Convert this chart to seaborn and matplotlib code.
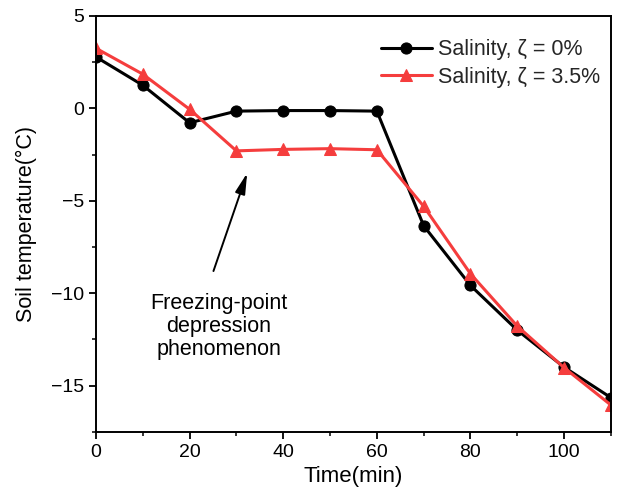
import matplotlib
matplotlib.use("Agg")
import matplotlib.pyplot as plt
import seaborn as sns
import pandas as pd
from matplotlib.ticker import MultipleLocator

time_min = [0, 10, 20, 30, 40, 50, 60, 70, 80, 90, 100, 110]
temp_0 = [2.78, 1.25, -0.78, -0.15, -0.12, -0.12, -0.15, -6.35, -9.58, -12.0, -14.0, -15.65]
temp_35 = [3.25, 1.85, -0.05, -2.3, -2.22, -2.18, -2.24, -5.3, -8.95, -11.78, -14.03, -16.05]
labels = ["Salinity, ζ = 0%", "Salinity, ζ = 3.5%"]

sns.set_theme(style="ticks")
plt.rcParams['font.family'] = ['Liberation Sans', 'DejaVu Sans']

fig = plt.figure(figsize=(6.19, 4.97), dpi=100)
ax = fig.add_axes([0.155, 0.131, 0.832, 0.837])

df0 = pd.DataFrame({"t": time_min, "T": temp_0})
df1 = pd.DataFrame({"t": time_min, "T": temp_35})
sns.lineplot(data=df0, x="t", y="T", ax=ax, color="black", marker="o", markersize=8,
             linewidth=2.2, markeredgecolor="black", label=labels[0])
sns.lineplot(data=df1, x="t", y="T", ax=ax, color="#F53D3D", marker="^", markersize=9,
             linewidth=2.2, markeredgecolor="#F53D3D", label=labels[1])

ax.set_xlim(0, 110)
ax.set_ylim(-17.5, 5)
ax.xaxis.set_major_locator(MultipleLocator(20))
ax.xaxis.set_minor_locator(MultipleLocator(10))
ax.yaxis.set_major_locator(MultipleLocator(5))
ax.yaxis.set_minor_locator(MultipleLocator(2.5))
ax.tick_params(axis='both', which='major', direction='out', length=5, width=1.3,
               labelsize=14, colors='black', top=False, right=False)
ax.tick_params(axis='both', which='minor', direction='out', length=3, width=1.3,
               top=False, right=False)
for s in ax.spines.values():
    s.set_visible(True)
    s.set_color('black')
    s.set_linewidth(1.4)

ax.set_xlabel("Time(min)", fontsize=16, color='black', labelpad=4)
ax.set_ylabel("Soil temperature(°C)", fontsize=15.5, color='black', labelpad=10)

leg = ax.legend(loc="upper right", bbox_to_anchor=(1.017, 0.99), frameon=False,
                fontsize=15.5, handlelength=2.35, handletextpad=0.3, labelspacing=0.3,
                borderaxespad=0.5)

ax.annotate("", xy=(32.3, -3.5), xytext=(25.1, -8.8),
            arrowprops=dict(arrowstyle="-|>,head_length=0.9,head_width=0.22", color="black",
                            lw=1.4, mutation_scale=14, shrinkA=0, shrinkB=0))
ax.text(26.2, -11.8, "Freezing-point\ndepression\nphenomenon", ha="center", va="center",
        fontsize=15.5, linespacing=1.15, color='black')

fig.savefig("out.png", dpi=100)
